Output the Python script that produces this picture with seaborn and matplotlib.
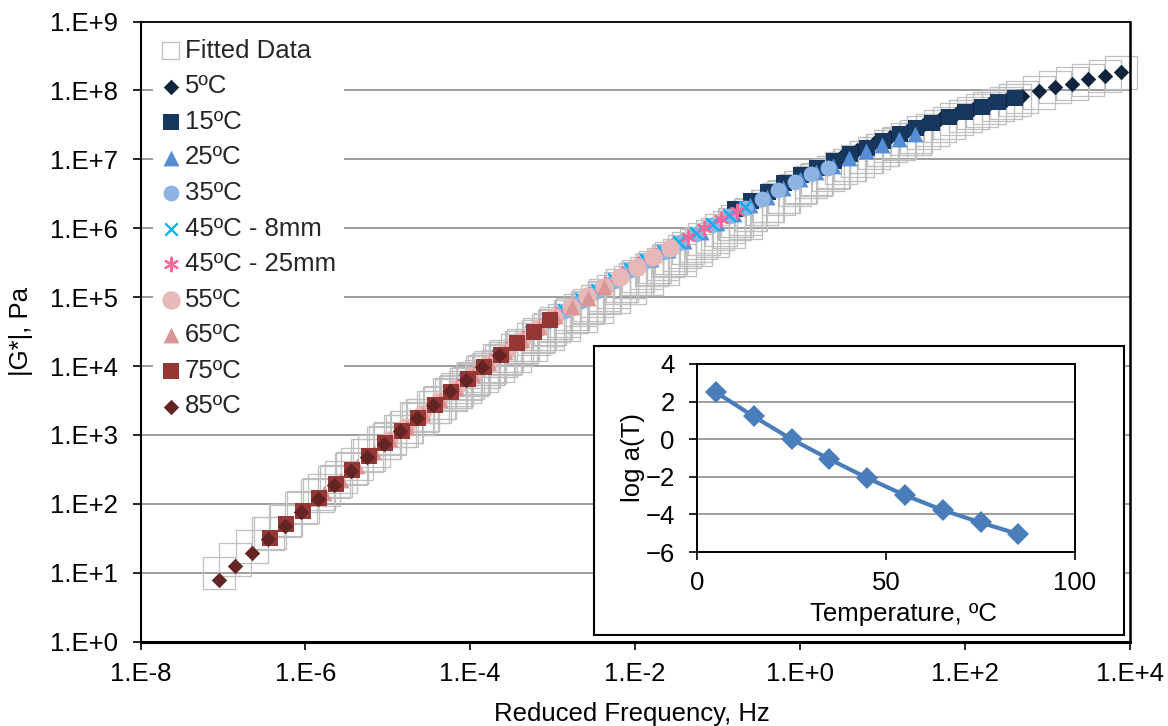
import numpy as np
import pandas as pd
import matplotlib
matplotlib.use("Agg")
import matplotlib.pyplot as plt
import seaborn as sns
from matplotlib.ticker import FixedLocator, FuncFormatter, NullLocator

# ---------------- data ----------------
# measured loading frequencies, Hz
freq_hz = [0.01, 0.0158, 0.0251, 0.0398, 0.0631, 0.1, 0.158, 0.251, 0.398, 0.631,
           1.0, 1.58, 2.51, 3.98, 6.31, 10.0, 15.8, 25.1]
freq_25mm_hz = [0.00794, 0.0126, 0.02, 0.0316, 0.05, 0.0794, 0.126, 0.2, 0.316, 0.5,
                0.794, 1.26, 2.0, 3.16, 5.0, 7.94, 12.6, 20.0]

# shift factors (inset)
temperatures_c = [5, 15, 25, 35, 45, 55, 65, 75, 85]
log_aT = [2.50, 1.21, 0.00, -1.06, -2.06, -2.98, -3.77, -4.43, -5.05]

series_labels = ["5ºC", "15ºC", "25ºC", "35ºC", "45ºC - 8mm", "45ºC - 25mm",
                 "55ºC", "65ºC", "75ºC", "85ºC"]
series_temp = [5, 15, 25, 35, 45, 45, 55, 65, 75, 85]

# measured log10 |G*| (Pa)
g_5 = [7.03, 7.13, 7.23, 7.32, 7.41, 7.50, 7.58, 7.66, 7.73, 7.80, 7.86, 7.92, 7.99, 8.05, 8.10, 8.16, 8.21, 8.26]
g_15 = [6.28, 6.40, 6.52, 6.65, 6.77, 6.87, 6.97, 7.07, 7.17, 7.27, 7.36, 7.45, 7.53, 7.61, 7.69, 7.76, 7.83, 7.89]
g_25 = [5.43, 5.56, 5.69, 5.82, 5.95, 6.08, 6.21, 6.33, 6.46, 6.58, 6.71, 6.81, 6.91, 7.02, 7.12, 7.21, 7.29, 7.36]
g_35 = [4.65, 4.80, 4.95, 5.09, 5.24, 5.39, 5.52, 5.65, 5.78, 5.91, 6.04, 6.17, 6.29, 6.42, 6.55, 6.67, 6.78, 6.88]
g_45_8 = [3.80, 3.98, 4.15, 4.32, 4.50, 4.67, 4.82, 4.97, 5.11, 5.26, 5.41, 5.54, 5.67, 5.80, 5.93, 6.06, 6.19, 6.31]
g_45_25 = [3.71, 3.89, 4.07, 4.24, 4.41, 4.58, 4.75, 4.89, 5.04, 5.19, 5.33, 5.48, 5.61, 5.74, 5.87, 6.00, 6.13, 6.25]
g_55 = [2.93, 3.11, 3.30, 3.49, 3.67, 3.86, 4.03, 4.20, 4.37, 4.55, 4.71, 4.86, 5.01, 5.15, 5.29, 5.44, 5.58, 5.71]
g_65 = [2.15, 2.35, 2.55, 2.75, 2.94, 3.12, 3.31, 3.50, 3.68, 3.87, 4.04, 4.21, 4.38, 4.56, 4.72, 4.86, 4.99, 5.14]
g_75 = [1.50, 1.70, 1.89, 2.09, 2.29, 2.49, 2.69, 2.88, 3.06, 3.25, 3.44, 3.62, 3.81, 3.99, 4.16, 4.33, 4.50, 4.67]
g_85 = [0.90, 1.10, 1.29, 1.49, 1.68, 1.88, 2.07, 2.28, 2.48, 2.68, 2.87, 3.06, 3.25, 3.43, 3.63, 3.80, 3.98, 4.16]

# fitted log10 |G*| (Pa) at the same reduced frequencies
fit_5 = [6.87, 6.98, 7.09, 7.19, 7.29, 7.39, 7.48, 7.58, 7.67, 7.74, 7.82, 7.90, 7.97, 8.05, 8.10, 8.15, 8.21, 8.26]
fit_15 = [6.06, 6.20, 6.32, 6.46, 6.60, 6.71, 6.82, 6.92, 7.03, 7.14, 7.24, 7.33, 7.43, 7.53, 7.63, 7.71, 7.79, 7.86]
fit_25 = [5.26, 5.39, 5.52, 5.66, 5.79, 5.92, 6.06, 6.19, 6.32, 6.45, 6.59, 6.70, 6.81, 6.92, 7.03, 7.13, 7.22, 7.29]
fit_35 = [4.52, 4.66, 4.81, 4.94, 5.08, 5.22, 5.35, 5.48, 5.61, 5.75, 5.88, 6.02, 6.14, 6.28, 6.42, 6.55, 6.67, 6.77]
fit_45_8 = [3.69, 3.85, 4.00, 4.15, 4.31, 4.46, 4.59, 4.73, 4.86, 5.00, 5.14, 5.27, 5.41, 5.54, 5.68, 5.81, 5.95, 6.08]
fit_45_25 = [3.66, 3.83, 3.99, 4.15, 4.31, 4.46, 4.62, 4.75, 4.89, 5.03, 5.17, 5.31, 5.44, 5.57, 5.71, 5.84, 5.97, 6.10]
fit_55 = [2.94, 3.11, 3.28, 3.46, 3.62, 3.80, 3.96, 4.11, 4.27, 4.43, 4.58, 4.72, 4.86, 5.00, 5.13, 5.27, 5.41, 5.54]
fit_65 = [2.20, 2.39, 2.58, 2.77, 2.95, 3.11, 3.29, 3.47, 3.63, 3.81, 3.96, 4.12, 4.28, 4.44, 4.59, 4.72, 4.84, 4.99]
fit_75 = [1.58, 1.77, 1.95, 2.14, 2.33, 2.52, 2.71, 2.89, 3.06, 3.23, 3.41, 3.58, 3.75, 3.92, 4.07, 4.23, 4.39, 4.54]
fit_85 = [1.00, 1.19, 1.38, 1.57, 1.75, 1.94, 2.12, 2.32, 2.51, 2.70, 2.88, 3.06, 3.24, 3.40, 3.59, 3.74, 3.91, 4.08]

x_tick_exponents = [-8, -6, -4, -2, 0, 2, 4]
y_tick_exponents = [0, 1, 2, 3, 4, 5, 6, 7, 8, 9]
inset_xticks = [0, 50, 100]
inset_yticks = [-6, -4, -2, 0, 2, 4]

measured = [g_5, g_15, g_25, g_35, g_45_8, g_45_25, g_55, g_65, g_75, g_85]
fitted = [fit_5, fit_15, fit_25, fit_35, fit_45_8, fit_45_25, fit_55, fit_65, fit_75, fit_85]
freq_sets = [freq_hz, freq_hz, freq_hz, freq_hz, freq_hz, freq_25mm_hz,
             freq_hz, freq_hz, freq_hz, freq_hz]

# build long table (reduced frequency = frequency x a(T))
aT_map = dict(zip(temperatures_c, log_aT))
rows = []
for lab, T, fr, gm, gf in zip(series_labels, series_temp, freq_sets, measured, fitted):
    for f, a, b in zip(fr, gm, gf):
        rows.append({"series": lab, "rf": f * 10 ** aT_map[T], "G": 10 ** a, "Gfit": 10 ** b})
df = pd.DataFrame(rows)
shift_df = pd.DataFrame({"T": temperatures_c, "logaT": log_aT})

# ---------------- styles ----------------
styles = {
    "5ºC": dict(marker="D", color="#10243E", s=62),
    "15ºC": dict(marker="s", color="#17375E", s=125),
    "25ºC": dict(marker="^", color="#558ED5", s=130),
    "35ºC": dict(marker="o", color="#8EB4E3", s=130),
    "45ºC - 8mm": dict(marker="x", color="#00B0F0", s=80),
    "45ºC - 25mm": dict(marker=(6, 2, 0), color="#FF6699", s=95),
    "55ºC": dict(marker="o", color="#E6B9B8", s=175),
    "65ºC": dict(marker="^", color="#D99694", s=130),
    "75ºC": dict(marker="s", color="#953735", s=125),
    "85ºC": dict(marker="D", color="#632523", s=62),
}

sns.set_theme(style="white")
plt.rcParams["font.family"] = ["Liberation Sans", "DejaVu Sans"]
FS = 18.5
plt.rcParams["font.size"] = FS

W, H = 1168, 726
fig = plt.figure(figsize=(W / 100, H / 100), dpi=100)
fig.patch.set_facecolor("white")

def fx(px):
    return px / W

def fy(py):
    return 1 - py / H

L, R, T_, B_ = 140.5, 1129.5, 21.5, 641.6
ax = fig.add_axes([fx(L), fy(B_), fx(R) - fx(L), fy(T_) - fy(B_)])
ax.set_facecolor("white")

# fitted data (drawn first)
sns.scatterplot(data=df, x="rf", y="Gfit", ax=ax, marker="s", s=540,
                color="#BFBFBF", facecolor="none", edgecolor="#BFBFBF",
                linewidth=0.9, label="Fitted Data", legend=False, zorder=2)
ax.collections[-1].set_clip_on(False)

for lab in series_labels:
    st = styles[lab]
    sub = df[df["series"] == lab]
    if st["marker"] == "x" or isinstance(st["marker"], tuple):
        sns.scatterplot(data=sub, x="rf", y="G", ax=ax, marker=st["marker"], s=st["s"],
                        color=st["color"], linewidth=1.6, label=lab, legend=False, zorder=3)
    else:
        sns.scatterplot(data=sub, x="rf", y="G", ax=ax, marker=st["marker"], s=st["s"],
                        color=st["color"], edgecolor=st["color"], linewidth=0,
                        label=lab, legend=False, zorder=3)

ax.set_xscale("log")
ax.set_yscale("log")
ax.set_xlim(1e-8, 1e4)
ax.set_ylim(1e0, 1e9)
ax.xaxis.set_major_locator(FixedLocator([10.0 ** e for e in x_tick_exponents]))
ax.xaxis.set_minor_locator(NullLocator())
ax.yaxis.set_major_locator(FixedLocator([10.0 ** e for e in y_tick_exponents]))
ax.yaxis.set_minor_locator(NullLocator())
fmt = FuncFormatter(lambda v, p: "1.E{:+d}".format(int(round(np.log10(v)))))
ax.xaxis.set_major_formatter(fmt)
ax.yaxis.set_major_formatter(fmt)
ax.grid(False)
ax.yaxis.grid(True, color="#8C8C8C", linewidth=1.2)
ax.set_axisbelow(True)
for side, lw in (("left", 1.5), ("bottom", 2.2), ("top", 1.3), ("right", 1.8)):
    ax.spines[side].set_color("black")
    ax.spines[side].set_linewidth(lw)
ax.tick_params(axis="both", which="major", direction="out", length=6, width=1.2,
               color="black", labelsize=FS, labelcolor="black", bottom=True, left=True)
ax.tick_params(axis="y", pad=10)
ax.tick_params(axis="x", pad=9)
ax.set_xlabel("Reduced Frequency, Hz", fontsize=FS, color="black")
ax.set_ylabel("|G*|, Pa", fontsize=FS, color="black")
ax.xaxis.set_label_coords(0.497, -0.097)
ax.yaxis.set_label_coords(-0.1086, 0.5)

handles, labels = ax.get_legend_handles_labels()
leg = ax.legend(handles, labels, loc="upper left",
                bbox_to_anchor=(fx(153), fy(31)), bbox_transform=fig.transFigure,
                frameon=True, facecolor="white", edgecolor="none", framealpha=1,
                fancybox=False, handlelength=0.8, handletextpad=0.14,
                labelspacing=0.45, borderpad=0.3, borderaxespad=0,
                scatterpoints=1, fontsize=FS)
leg.set_zorder(5)
leg.legend_handles[0].set_sizes([150])

# ---------------- inset ----------------
box = fig.add_axes([fx(594), fy(635), fx(1124) - fx(594), fy(346) - fy(635)])
box.set_facecolor("white")
box.set_xticks([])
box.set_yticks([])
for sp in box.spines.values():
    sp.set_color("black")
    sp.set_linewidth(1.5)

iL, iR, iT, iB = 697, 1075, 364, 552
axin = fig.add_axes([fx(iL), fy(iB), fx(iR) - fx(iL), fy(iT) - fy(iB)])
axin.set_facecolor("white")
sns.lineplot(data=shift_df, x="T", y="logaT", ax=axin, color="#4A7EBB",
             linewidth=3.0, marker="D", markersize=11, markeredgewidth=0)
axin.set_xlim(0, 100)
axin.set_ylim(-6, 4)
axin.set_xticks(inset_xticks)
axin.set_yticks(inset_yticks)
axin.grid(False)
axin.yaxis.grid(True, color="#8C8C8C", linewidth=1.2)
axin.set_axisbelow(True)
for sp in axin.spines.values():
    sp.set_color("black")
    sp.set_linewidth(1.4)
axin.tick_params(axis="both", direction="out", length=6, width=1.2, color="black",
                 labelsize=FS, labelcolor="black", bottom=True, left=True)
axin.tick_params(axis="y", pad=10)
axin.tick_params(axis="x", pad=8)
axin.set_xlabel("Temperature, ºC", fontsize=FS, color="black")
axin.set_ylabel("log a(T)", fontsize=FS, color="black")
axin.xaxis.set_label_coords(0.545, -0.265)
axin.yaxis.set_label_coords(-0.1376, 0.5)

fig.savefig("out.png", dpi=100, facecolor="white")
